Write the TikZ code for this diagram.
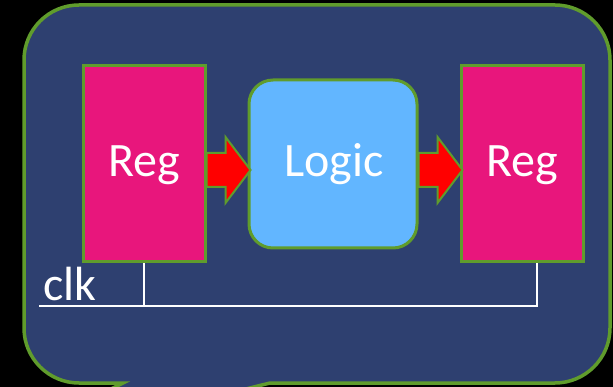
\documentclass[tikz,border=0pt]{standalone}
\usepackage{fontspec}
\setmainfont{Carlito}
\usetikzlibrary{calc}
\definecolor{panelblue}{RGB}{46,64,112}
\definecolor{edgegreen}{RGB}{96,156,44}
\definecolor{regpink}{RGB}{232,22,124}
\definecolor{logicblue}{RGB}{98,182,255}
\begin{document}
\begin{tikzpicture}[x=1pt,y=-1pt,
  label text/.style={text=white, font=\fontsize{48}{52}\selectfont, inner sep=0pt},
  block/.style={label text, draw=edgegreen, line width=3pt, text depth=0pt, text height=0pt},
  reg/.style={block, fill=regpink, minimum width=122pt, minimum height=196pt},
  logicbox/.style={block, fill=logicblue, rounded corners=24pt, minimum width=168pt, minimum height=168pt},
  flow/.style={draw=edgegreen, line width=2pt, fill=red, line join=miter},
  wire/.style={draw=white, line width=2pt}]
\useasboundingbox (0,0) rectangle (613,387);
\fill[black] (0,0) rectangle (613,387);
\begin{scope}
  \clip (0,0) rectangle (613,387);
  % callout panel with its pointer running off the bottom edge
  \path[draw=edgegreen, fill=panelblue, line width=3.5pt]
    (123,383) -- (79,383) arc[start angle=90, end angle=180, radius=55]
    -- (24,60) arc[start angle=180, end angle=270, radius=55]
    -- (555,5) arc[start angle=270, end angle=360, radius=55]
    -- (610,328) arc[start angle=0, end angle=90, radius=55]
    -- (270,383) -- (-24,456) -- cycle;
\end{scope}

% pipeline stages (empty boxes; labels set on their baselines below)
\node[reg] (regA) at (144,164) {};
\node[logicbox] (logic) at (333,164) {};
\node[reg] (regB) at (522,164) {};
\node[label text, anchor=base] (regAtext) at (144,177) {Reg};
\node[label text, anchor=base] (logictext) at (334,177) {Logic};
\node[label text, anchor=base] (regBtext) at (522,177) {Reg};

% block arrows between stages
\path[flow] ($(regA.east)+(0,-11)$) -- ($(logic.west)+(-22,-11)$)
  -- ($(logic.west)+(-22,-27)$) -- ($(logic.west)+(3,6)$)
  -- ($(logic.west)+(-22,39)$) -- ($(logic.west)+(-22,23)$)
  -- ($(regA.east)+(0,23)$) -- cycle;
\path[flow] ($(logic.east)+(0,-11)$) -- ($(regB.west)+(-22,-11)$)
  -- ($(regB.west)+(-22,-27)$) -- ($(regB.west)+(3,6)$)
  -- ($(regB.west)+(-22,39)$) -- ($(regB.west)+(-22,23)$)
  -- ($(logic.east)+(0,23)$) -- cycle;

% clock line
\coordinate (clkL) at (39,306);
\coordinate (clkR) at (537,306);
\draw[wire] (clkL) -- (clkR) -- (clkR |- regB.south);
\draw[wire] (regA.south) -- (regA.south |- clkL);
\node[label text, anchor=base west] (clk) at (43,301) {clk};
\end{tikzpicture}
\end{document}
